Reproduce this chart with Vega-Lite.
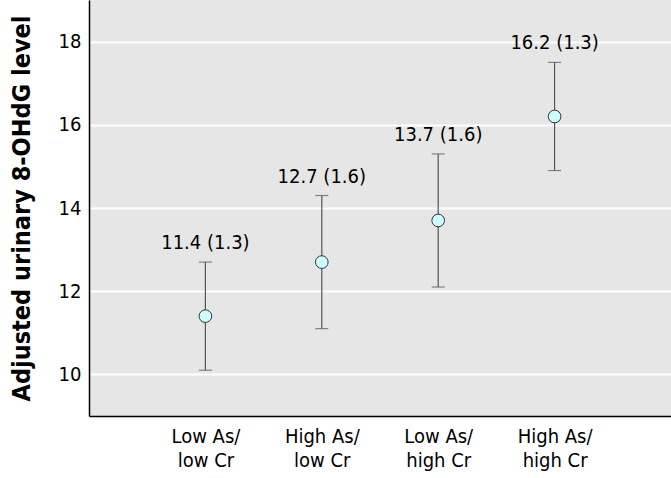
{
  "$schema": "https://vega.github.io/schema/vega-lite/v6.json",
  "width": 582,
  "height": 416,
  "autosize": {"type": "none"},
  "padding": {"left": 89, "top": 0, "right": 0, "bottom": 62},
  "background": "white",
  "config": {
    "view": {"fill": "#e6e6e6", "stroke": null},
    "font": "DejaVu Sans Condensed, Roboto, sans-serif"
  },
  "data": {
    "values": [
      {"group": "Low As/ low Cr", "mean": 11.4, "se": 1.3, "lo": 10.1, "hi": 12.7, "label": "11.4 (1.3)"},
      {"group": "High As/ low Cr", "mean": 12.7, "se": 1.6, "lo": 11.1, "hi": 14.3, "label": "12.7 (1.6)"},
      {"group": "Low As/ high Cr", "mean": 13.7, "se": 1.6, "lo": 12.1, "hi": 15.3, "label": "13.7 (1.6)"},
      {"group": "High As/ high Cr", "mean": 16.2, "se": 1.3, "lo": 14.9, "hi": 17.5, "label": "16.2 (1.3)"}
    ]
  },
  "encoding": {
    "x": {
      "field": "group",
      "type": "ordinal",
      "sort": null,
      "scale": {"type": "point", "padding": 1},
      "axis": {
        "title": null,
        "labelAngle": 0,
        "labelFontSize": 20,
        "labelColor": "black",
        "labelFont": "DejaVu Sans Condensed, Roboto, sans-serif",
        "labelExpr": "[slice(datum.label, 0, indexof(datum.label, '/') + 1), slice(datum.label, indexof(datum.label, '/') + 2)]",
        "labelLineHeight": 24,
        "labelPadding": 10,
        "ticks": false,
        "domainColor": "black",
        "domainWidth": 1.5,
        "grid": false
      }
    }
  },
  "layer": [
    {
      "mark": {"type": "rule", "color": "#555555", "strokeWidth": 1.2},
      "encoding": {
        "y": {
          "field": "lo",
          "type": "quantitative",
          "scale": {"domain": [9, 19], "nice": false, "zero": false},
          "axis": {
            "title": "Adjusted urinary 8-OHdG level",
            "titleFontSize": 25,
            "titleFontWeight": "bold",
            "titleFont": "DejaVu Sans Condensed, Roboto, sans-serif",
            "titleColor": "black",
            "titlePadding": 24,
            "values": [10, 12, 14, 16, 18],
            "labelFontSize": 20,
            "labelColor": "black",
            "labelFont": "DejaVu Sans Condensed, Roboto, sans-serif",
            "labelPadding": 8,
            "ticks": false,
            "domainColor": "black",
            "domainWidth": 1.5,
            "grid": true,
            "gridColor": "white",
            "gridWidth": 2
          }
        },
        "y2": {"field": "hi"}
      }
    },
    {
      "mark": {"type": "tick", "color": "#555555", "thickness": 1.2, "size": 13, "orient": "horizontal"},
      "encoding": {"y": {"field": "lo", "type": "quantitative"}}
    },
    {
      "mark": {"type": "tick", "color": "#555555", "thickness": 1.2, "size": 13, "orient": "horizontal"},
      "encoding": {"y": {"field": "hi", "type": "quantitative"}}
    },
    {
      "mark": {"type": "point", "shape": "circle", "filled": true, "fill": "#ccffff", "stroke": "#333333", "strokeWidth": 1, "opacity": 1, "size": 160},
      "encoding": {"y": {"field": "mean", "type": "quantitative"}}
    },
    {
      "mark": {"type": "text", "fontSize": 20, "color": "black", "baseline": "bottom", "dy": -9, "font": "DejaVu Sans Condensed, Roboto, sans-serif"},
      "encoding": {
        "y": {"field": "hi", "type": "quantitative"},
        "text": {"field": "label"}
      }
    }
  ]
}
